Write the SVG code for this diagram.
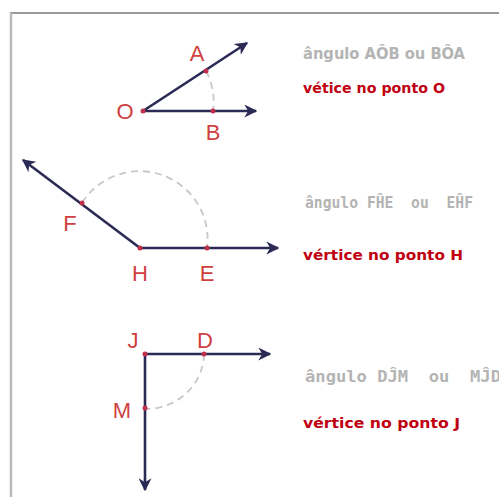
<svg xmlns="http://www.w3.org/2000/svg" width="499" height="497" viewBox="0 0 499 497">
<style>
.ray{stroke:#2a2a55;stroke-width:2.6;fill:none}
.arc{stroke:#c8c8c8;stroke-width:1.8;fill:none;stroke-dasharray:7 5}
.pt{fill:#c0304a}
.lbl{font-family:"Liberation Sans",Arial,sans-serif;font-size:22px;fill:#d04040;text-anchor:middle}
.gray{font-family:"DejaVu Sans Mono","Liberation Mono",monospace;font-size:15px;font-weight:bold;fill:#b4b4b4}
.red{font-family:"DejaVu Sans","Liberation Sans",sans-serif;font-size:14px;font-weight:bold;fill:#c00010}
</style>
<defs>
<marker id="ah" viewBox="0 0 10 10" refX="9" refY="5" markerWidth="5" markerHeight="5" orient="auto" markerUnits="strokeWidth">
<path d="M0,0 L10,5 L0,10 L3,5 Z" fill="#2a2a55"/>
</marker>
</defs>
<rect x="0" y="0" width="499" height="497" fill="#ffffff"/>
<g id="frame">
<line x1="10" y1="13" x2="499" y2="13" stroke="#999" stroke-width="2"/>
<line x1="11" y1="13" x2="11" y2="497" stroke="#bbb" stroke-width="2.5"/>
</g>
<g id="connectors">
<path class="arc" d="M206,71 A66,66 0 0 1 213,111"/>
<line class="ray" x1="143" y1="111" x2="247" y2="43" marker-end="url(#ah)"/>
<line class="ray" x1="143" y1="111" x2="256" y2="111" marker-end="url(#ah)"/>
<path class="arc" d="M82,203 A68,68 0 0 1 207,248"/>
<line class="ray" x1="140" y1="248" x2="23" y2="160" marker-end="url(#ah)"/>
<line class="ray" x1="140" y1="248" x2="278" y2="248" marker-end="url(#ah)"/>
<path class="arc" d="M204,354 A58,56 0 0 1 145,409"/>
<line class="ray" x1="145" y1="354" x2="270" y2="354" marker-end="url(#ah)"/>
<line class="ray" x1="145" y1="354" x2="145" y2="490" marker-end="url(#ah)"/>
</g>
<g id="node-O"><circle class="pt" cx="143" cy="111" r="2.5"/><text class="lbl" x="125" y="119">O</text></g>
<g id="node-A"><circle class="pt" cx="206" cy="71" r="2.5"/><text class="lbl" x="197" y="61">A</text></g>
<g id="node-B"><circle class="pt" cx="213" cy="111" r="2.5"/><text class="lbl" x="213" y="140">B</text></g>
<g id="node-H"><circle class="pt" cx="140" cy="248" r="2.5"/><text class="lbl" x="140" y="281">H</text></g>
<g id="node-F"><circle class="pt" cx="82" cy="203" r="2.5"/><text class="lbl" x="70" y="231">F</text></g>
<g id="node-E"><circle class="pt" cx="207" cy="248" r="2.5"/><text class="lbl" x="207" y="281">E</text></g>
<g id="node-J"><circle class="pt" cx="145" cy="354" r="2.5"/><text class="lbl" x="133" y="348">J</text></g>
<g id="node-D"><circle class="pt" cx="204" cy="354" r="2.5"/><text class="lbl" x="205" y="348">D</text></g>
<g id="node-M"><circle class="pt" cx="145" cy="408" r="2.5"/><text class="lbl" x="122" y="418">M</text></g>
<g id="text-1">
<text class="gray" x="303" y="59" textLength="162" lengthAdjust="spacingAndGlyphs" style="font-family:'DejaVu Sans Condensed','Liberation Sans',sans-serif">ângulo AÔB ou BÔA</text>
<text class="red" x="303" y="93" textLength="142" lengthAdjust="spacingAndGlyphs">vétice no ponto O</text>
</g>
<g id="text-2">
<text class="gray" x="305" y="208" textLength="168" lengthAdjust="spacingAndGlyphs" xml:space="preserve">ângulo FĤE  ou  EĤF</text>
<text class="red" x="303" y="260" textLength="160" lengthAdjust="spacingAndGlyphs">vértice no ponto H</text>
</g>
<g id="text-3">
<text class="gray" x="305" y="382" textLength="196" lengthAdjust="spacingAndGlyphs" xml:space="preserve">ângulo DĴM  ou  MĴD</text>
<text class="red" x="303" y="428" textLength="157" lengthAdjust="spacingAndGlyphs">vértice no ponto J</text>
</g>
</svg>
